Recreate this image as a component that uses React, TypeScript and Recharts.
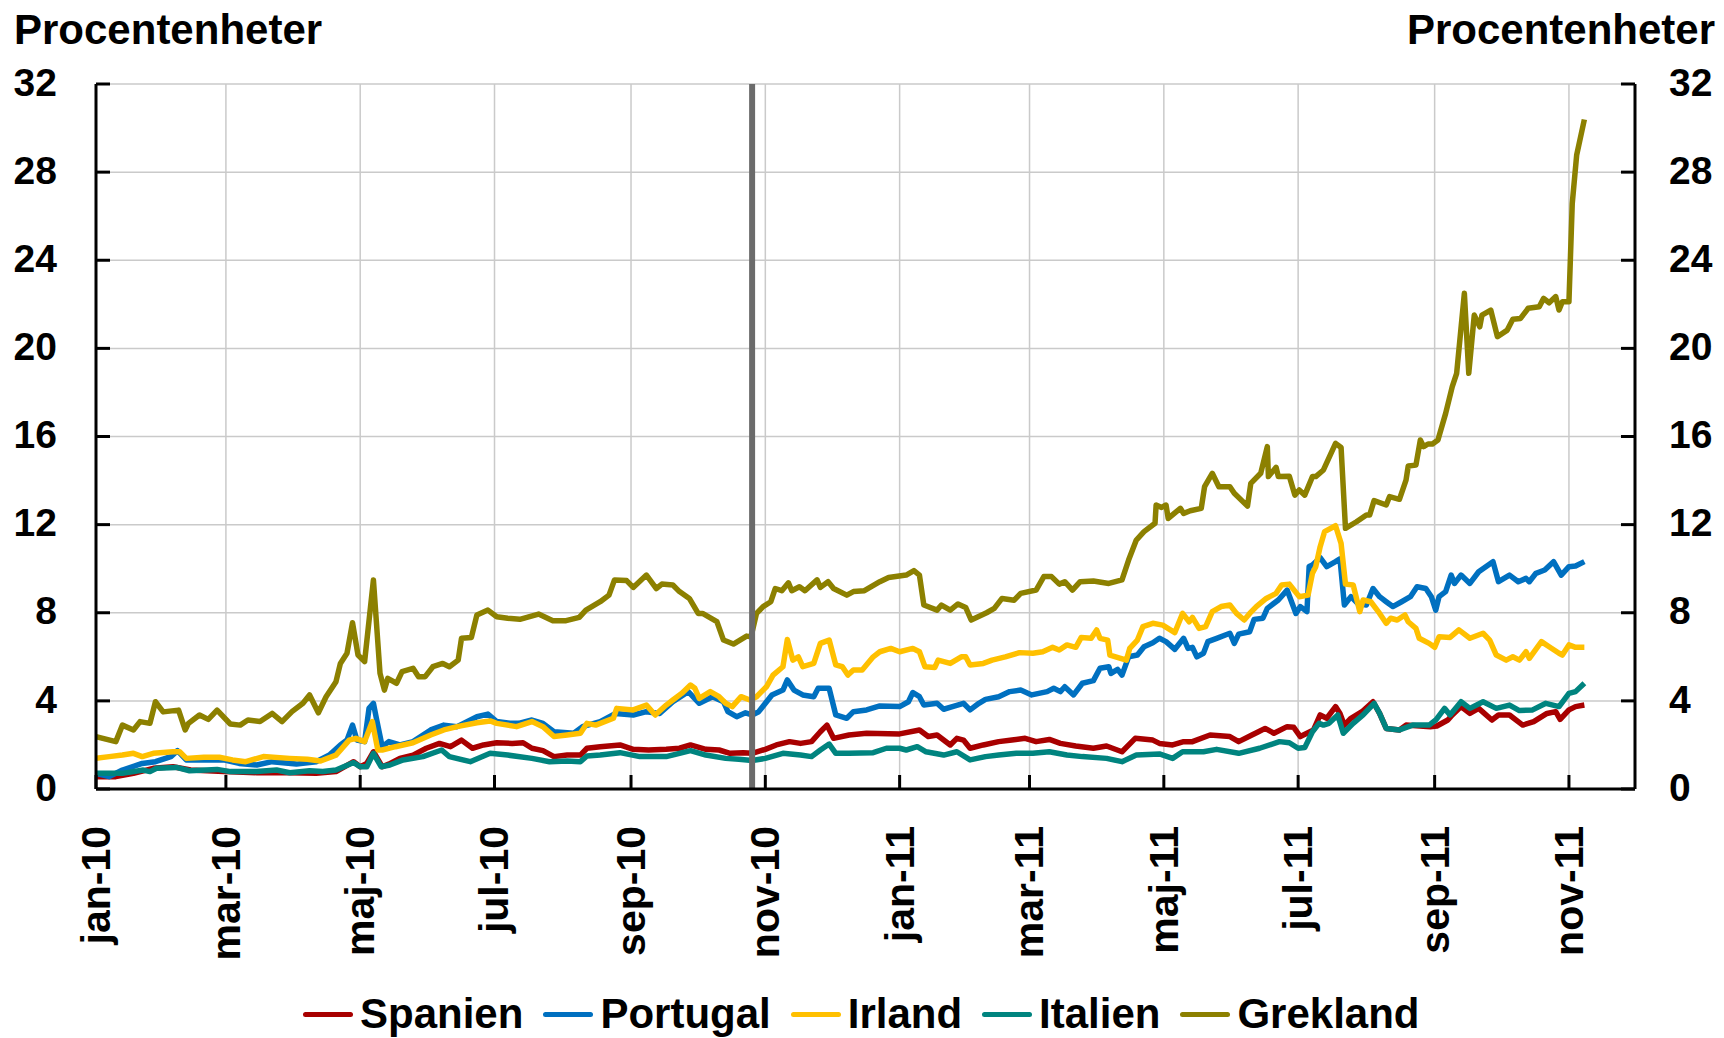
import React from 'react';
import { LineChart, Line, XAxis, YAxis, CartesianGrid, ReferenceLine } from 'recharts';

// x = dagar räknat från 2010-01-01
const X_TICKS = [0, 59, 120, 181, 243, 304, 365, 424, 485, 546, 608, 669];
const X_LABELS = ['jan-10', 'mar-10', 'maj-10', 'jul-10', 'sep-10', 'nov-10', 'jan-11', 'mar-11', 'maj-11', 'jul-11', 'sep-11', 'nov-11'];
const Y_TICKS = [0, 4, 8, 12, 16, 20, 24, 28, 32];
const MARKER_DAY = 298;
const UNIT = 'Procentenheter';

const SPANIEN: [number, number][] = [
  [0, 0.56], [9, 0.56], [17, 0.71], [26, 0.94], [35, 1.01], [43, 0.86], [58, 0.79], [73, 0.74], [88, 0.74], [100, 0.71],
  [109, 0.79], [117, 1.24], [120, 1.01], [123, 1.16], [126, 1.69], [130, 1.01], [133, 1.13], [138, 1.39], [144, 1.54], [150, 1.85],
  [156, 2.07], [161, 1.92], [166, 2.22], [171, 1.85], [176, 2.0], [182, 2.1], [189, 2.07], [194, 2.1], [198, 1.85], [203, 1.74],
  [208, 1.47], [214, 1.54], [220, 1.54], [223, 1.85], [229, 1.92], [238, 2.0], [244, 1.8], [251, 1.77], [259, 1.8], [265, 1.85],
  [270, 2.0], [277, 1.8], [283, 1.77], [288, 1.62], [294, 1.65], [298, 1.62], [304, 1.8], [309, 2.0], [315, 2.15], [320, 2.07],
  [325, 2.15], [329, 2.6], [332, 2.9], [335, 2.3], [342, 2.45], [350, 2.53], [365, 2.5], [374, 2.68], [378, 2.38], [382, 2.45],
  [388, 2.0], [391, 2.3], [394, 2.22], [397, 1.85], [403, 2.0], [410, 2.15], [416, 2.22], [422, 2.3], [427, 2.15], [433, 2.25],
  [438, 2.07], [445, 1.95], [453, 1.85], [459, 1.95], [466, 1.69], [472, 2.3], [480, 2.22], [483, 2.07], [489, 2.0], [494, 2.15],
  [498, 2.15], [506, 2.45], [515, 2.38], [519, 2.15], [525, 2.45], [528, 2.6], [531, 2.75], [535, 2.53], [541, 2.83], [544, 2.8],
  [547, 2.38], [550, 2.53], [553, 2.68], [556, 3.36], [559, 3.21], [563, 3.74], [565, 3.43], [567, 2.9], [570, 3.21], [575, 3.51],
  [580, 3.96], [583, 3.43], [586, 2.75], [592, 2.68], [595, 2.9], [606, 2.83], [609, 2.86], [614, 3.13], [616, 3.36], [620, 3.74],
  [624, 3.43], [628, 3.66], [634, 3.13], [637, 3.36], [642, 3.36], [648, 2.9], [653, 3.06], [659, 3.43], [663, 3.51], [665, 3.16],
  [669, 3.59], [672, 3.74], [676, 3.81],
];

const PORTUGAL: [number, number][] = [
  [0, 0.71], [6, 0.56], [12, 0.86], [21, 1.16], [27, 1.24], [34, 1.47], [37, 1.74], [41, 1.32], [49, 1.32], [58, 1.32],
  [65, 1.16], [73, 1.09], [80, 1.24], [91, 1.13], [100, 1.24], [106, 1.54], [111, 2.0], [114, 2.22], [116.5, 2.9], [118.5, 2.22],
  [122, 2.15], [124, 3.66], [126, 3.89], [127.5, 3.13], [130, 1.92], [133, 2.15], [138, 2.0], [144, 2.15], [152, 2.68], [158, 2.9],
  [164, 2.83], [173, 3.28], [178, 3.4], [182, 3.06], [188, 2.98], [192, 2.98], [198, 3.13], [203, 2.98], [208, 2.6], [217, 2.53],
  [221, 2.83], [229, 3.06], [236, 3.43], [244, 3.36], [250, 3.51], [256, 3.43], [262, 3.96], [269, 4.42], [274, 3.89], [280, 4.19],
  [285, 3.96], [287, 3.51], [291, 3.28], [295, 3.46], [298, 3.36], [301, 3.51], [307, 4.27], [312, 4.49], [314, 4.95], [317, 4.49],
  [321, 4.27], [326, 4.19], [328, 4.57], [333, 4.57], [336, 3.36], [341, 3.21], [344, 3.51], [350, 3.59], [356, 3.77], [365, 3.74],
  [369, 3.96], [371, 4.38], [374, 4.19], [376, 3.81], [382, 3.89], [385, 3.62], [389, 3.74], [394, 3.89], [397, 3.59], [401, 3.89],
  [404, 4.07], [410, 4.19], [415, 4.42], [420, 4.49], [425, 4.27], [432, 4.42], [435, 4.57], [438, 4.42], [440, 4.64], [444, 4.27],
  [448, 4.8], [453, 4.92], [456, 5.48], [460, 5.55], [461, 5.25], [464, 5.43], [466, 5.17], [469, 6.0], [473, 6.08], [476, 6.46],
  [480, 6.64], [483, 6.84], [486, 6.69], [490, 6.34], [494, 6.84], [496, 6.38], [498, 6.43], [500, 6.0], [503, 6.16], [505, 6.69],
  [509, 6.84], [515, 7.07], [517, 6.61], [519, 7.03], [524, 7.14], [526, 7.7], [530, 7.75], [532, 8.2], [537, 8.58], [541, 9.03],
  [545, 7.97], [547, 8.28], [550, 8.05], [551, 10.1], [552.5, 10.17], [556, 10.5], [559, 10.09], [563, 10.32], [565, 10.45], [567, 8.35],
  [570, 8.73], [573, 8.43], [577, 8.35], [580, 9.1], [583, 8.73], [586, 8.5], [589, 8.28], [593, 8.5], [597, 8.73], [600, 9.18],
  [604, 9.1], [606.5, 8.73], [608.5, 8.12], [610, 8.73], [613, 8.96], [615.5, 9.71], [617, 9.33], [620, 9.71], [624, 9.33], [628, 9.86],
  [634.5, 10.32], [637, 9.41], [642, 9.71], [646, 9.41], [649.5, 9.56], [651, 9.41], [654, 9.79], [658, 9.94], [662, 10.32], [665.5, 9.71],
  [669, 10.09], [672, 10.12], [676, 10.32],
];

const IRLAND: [number, number][] = [
  [0, 1.39], [6, 1.47], [12, 1.54], [17, 1.62], [21, 1.47], [26, 1.62], [35, 1.69], [38, 1.69], [41, 1.39], [49, 1.44],
  [56, 1.44], [62, 1.32], [68, 1.24], [76, 1.47], [88, 1.39], [96, 1.35], [102, 1.27], [109, 1.54], [115, 2.22], [118, 2.3],
  [122, 2.15], [125.5, 3.06], [128, 1.77], [130, 1.77], [136, 1.92], [144, 2.1], [152, 2.45], [158, 2.68], [164, 2.83], [173, 3.01],
  [179, 3.09], [182, 2.98], [191, 2.83], [198, 3.06], [203, 2.83], [208, 2.38], [214, 2.45], [220, 2.53], [223, 2.98], [227, 2.9],
  [235, 3.21], [236.5, 3.66], [244, 3.59], [250, 3.81], [254, 3.36], [259, 3.81], [262, 4.04], [266, 4.34], [270, 4.72], [272, 4.57],
  [274, 4.11], [279, 4.42], [283, 4.19], [286, 3.89], [289, 3.74], [293, 4.19], [297, 4.04], [300, 4.19], [304.5, 4.64], [307.5, 5.17],
  [312, 5.55], [314, 6.79], [316.5, 5.85], [319, 6.0], [321, 5.55], [326, 5.7], [329, 6.61], [333, 6.76], [336, 5.63], [339, 5.55],
  [341.5, 5.17], [344, 5.4], [348, 5.4], [353, 6.0], [356, 6.23], [361, 6.38], [365, 6.23], [371, 6.38], [374, 6.23], [376.5, 5.55],
  [381, 5.52], [382.5, 5.85], [388, 5.7], [393, 6.0], [395, 6.0], [397, 5.63], [403, 5.7], [407, 5.85], [413, 6.0], [419.5, 6.19],
  [425.5, 6.16], [430, 6.23], [434.5, 6.43], [437.5, 6.31], [441, 6.54], [445, 6.43], [447.5, 6.88], [452, 6.84], [454.5, 7.22], [456, 6.84],
  [459.5, 6.76], [460.5, 6.08], [468, 5.85], [469.5, 6.38], [473, 6.76], [475.5, 7.37], [480, 7.52], [484.5, 7.44], [490, 7.1], [493.5, 7.97],
  [496.5, 7.59], [498, 7.79], [501, 7.29], [504, 7.37], [507, 8.05], [511, 8.28], [515, 8.35], [518, 7.97], [521.5, 7.67], [524, 7.97],
  [527, 8.28], [531.5, 8.65], [536, 8.88], [538.5, 9.26], [542, 9.3], [546.5, 8.73], [550.5, 8.8], [552.5, 9.79], [554, 10.09], [556, 11.0],
  [558, 11.68], [563, 11.95], [565.5, 11.15], [567.5, 9.3], [571, 9.26], [574, 8.05], [575.5, 8.58], [579, 8.5], [583, 7.97], [586, 7.52],
  [588, 7.75], [591, 7.67], [594.5, 7.9], [596, 7.59], [599.5, 7.29], [601, 6.84], [605.5, 6.61], [608, 6.43], [610, 6.91], [615, 6.88],
  [619, 7.22], [624, 6.84], [630, 7.07], [633, 6.76], [636, 6.08], [640.5, 5.85], [643.5, 6.0], [646.5, 5.85], [649.5, 6.23], [651, 5.93],
  [656.5, 6.69], [660, 6.46], [664.5, 6.16], [666, 6.08], [669, 6.54], [672, 6.43], [676, 6.43],
];

const ITALIEN: [number, number][] = [
  [0, 0.71], [12, 0.71], [21.5, 0.86], [24.5, 0.79], [27.5, 0.94], [36.5, 0.98], [42.5, 0.83], [55, 0.89], [61, 0.79], [73, 0.79],
  [82, 0.86], [88, 0.74], [97, 0.83], [103, 0.79], [109, 0.86], [117, 1.2], [120, 1.01], [123, 1.01], [126, 1.62], [129.5, 1.01],
  [133.5, 1.09], [139.5, 1.32], [148.5, 1.47], [157, 1.77], [160.5, 1.47], [170, 1.24], [179, 1.62], [187, 1.54], [198, 1.39], [206, 1.24],
  [214, 1.27], [220, 1.24], [223, 1.5], [229, 1.54], [238, 1.65], [247, 1.47], [259, 1.47], [265, 1.62], [270, 1.74], [277, 1.54],
  [286, 1.39], [292, 1.35], [298, 1.29], [304, 1.39], [312, 1.62], [320, 1.54], [325, 1.47], [329, 1.77], [333, 2.04], [336, 1.62],
  [342, 1.62], [353, 1.65], [359, 1.85], [365, 1.85], [368, 1.77], [373, 1.92], [377, 1.69], [385, 1.54], [391, 1.69], [397, 1.32],
  [404, 1.47], [410, 1.54], [418, 1.62], [425.5, 1.62], [433, 1.69], [441, 1.54], [448, 1.47], [459, 1.39], [466, 1.24], [472.5, 1.54],
  [483, 1.59], [489, 1.39], [493.5, 1.69], [503, 1.69], [509, 1.8], [519, 1.62], [528.5, 1.85], [537.5, 2.15], [542, 2.1], [546, 1.85],
  [549, 1.88], [552.5, 2.6], [555.5, 2.98], [557.5, 2.9], [560, 2.98], [564, 3.36], [566.5, 2.53], [571, 2.98], [575.5, 3.36], [580.5, 3.89],
  [583, 3.43], [586, 2.75], [592, 2.68], [598, 2.9], [605.5, 2.9], [608.5, 3.13], [612.5, 3.66], [615, 3.36], [620, 3.96], [624, 3.66],
  [630, 3.96], [636, 3.66], [642, 3.81], [646.5, 3.56], [652.5, 3.59], [658.5, 3.89], [664.5, 3.74], [669, 4.34], [672, 4.42], [676, 4.8],
];

const GREKLAND: [number, number][] = [
  [0, 2.38], [9, 2.15], [12, 2.9], [17, 2.68], [20, 3.06], [24.5, 2.98], [27, 3.96], [30.5, 3.5], [37.5, 3.58], [40.5, 2.68],
  [42, 2.98], [47, 3.36], [51, 3.16], [55, 3.58], [61, 2.95], [65.5, 2.9], [69, 3.13], [74.5, 3.06], [80, 3.43], [84.5, 3.06],
  [89, 3.51], [94, 3.89], [97, 4.27], [101, 3.46], [104.5, 4.19], [109, 4.87], [111, 5.7], [114, 6.16], [116.5, 7.55], [119, 6.08],
  [122, 5.78], [126, 9.49], [129, 5.25], [131, 4.49], [132.5, 5.02], [136.5, 4.8], [139, 5.33], [144, 5.48], [146.5, 5.1], [149.5, 5.1],
  [153, 5.55], [157.5, 5.7], [160.5, 5.55], [164.5, 5.85], [166, 6.84], [170.5, 6.88], [173, 7.9], [178, 8.12], [182, 7.82], [187, 7.75],
  [192.5, 7.7], [201, 7.94], [207.5, 7.64], [213.5, 7.64], [219.5, 7.79], [222.5, 8.12], [229, 8.5], [233, 8.8], [235.5, 9.49], [241, 9.46],
  [244, 9.15], [250, 9.71], [254.5, 9.1], [257, 9.3], [262, 9.26], [265, 8.96], [269.5, 8.65], [273.5, 7.97], [275.5, 7.97], [282, 7.6],
  [285, 6.76], [289.5, 6.58], [292.5, 6.76], [295.5, 6.94], [297.5, 6.91], [300, 7.97], [303, 8.28], [306.5, 8.5], [308.5, 9.1], [311.5, 9.0],
  [314.5, 9.36], [316, 9.0], [319.5, 9.18], [322, 9.0], [327.5, 9.49], [329, 9.15], [332.5, 9.41], [335, 9.1], [341, 8.8], [344, 8.96],
  [349, 9.0], [356, 9.41], [360, 9.6], [368, 9.71], [371.5, 9.91], [374, 9.71], [376, 8.35], [382, 8.12], [384, 8.35], [388, 8.12],
  [391.5, 8.4], [395, 8.24], [397.5, 7.67], [404.5, 8.0], [408, 8.2], [411.5, 8.65], [417, 8.57], [420, 8.88], [427, 9.03], [430.5, 9.64],
  [434, 9.64], [437.5, 9.3], [440, 9.41], [443.5, 9.03], [447, 9.41], [453, 9.44], [460, 9.33], [466, 9.49], [469, 10.39], [472.5, 11.3],
  [476, 11.68], [481, 12.06], [481.5, 12.89], [484, 12.78], [486, 12.89], [487, 12.28], [492.5, 12.74], [494, 12.51], [497, 12.63], [502, 12.74],
  [503.5, 13.72], [507, 14.33], [510, 13.72], [515, 13.72], [517, 13.42], [523, 12.84], [524.5, 13.87], [529, 14.33], [532, 15.54], [532.5, 14.18],
  [536, 14.6], [537, 14.18], [542, 14.2], [544.5, 13.34], [546.5, 13.57], [549, 13.34], [552.5, 14.18], [554, 14.18], [557.5, 14.48], [563, 15.69],
  [565.5, 15.5], [567.5, 11.83], [572.5, 12.13], [577, 12.44], [578.5, 12.44], [580.5, 13.09], [586, 12.89], [587.5, 13.27], [592, 13.15], [595, 14.02],
  [596, 14.66], [599.5, 14.7], [601.5, 15.84], [603, 15.54], [605, 15.66], [607, 15.66], [609.5, 15.84], [613, 17.05], [616, 18.26], [618, 18.87],
  [621.5, 22.5], [623.5, 18.87], [626, 21.51], [628.5, 20.98], [629.5, 21.51], [633.5, 21.74], [636.5, 20.53], [641, 20.83], [643.5, 21.32], [647, 21.36],
  [650.5, 21.82], [655.5, 21.89], [657.5, 22.27], [660, 22.07], [663, 22.35], [664.5, 21.74], [666, 22.12], [669, 22.12], [670.5, 26.58], [672.5, 28.77],
  [676, 30.39],
];

const SERIES = [
  { name: 'Spanien', color: '#a80000', points: SPANIEN },
  { name: 'Portugal', color: '#0070c0', points: PORTUGAL },
  { name: 'Irland', color: '#ffc000', points: IRLAND },
  { name: 'Italien', color: '#00847f', points: ITALIEN },
  { name: 'Grekland', color: '#8c8000', points: GREKLAND },
];

const FONT = '"Liberation Sans", Arial, sans-serif';

function XTick({ x, y, payload }: any) {
  const label = X_LABELS[X_TICKS.indexOf(payload.value)];
  const ty = y + 37;
  return (
    <g>
      <line x1={x} y1={y} x2={x} y2={y - 14} stroke="#000" strokeWidth={3} />
      <text x={x} y={ty} dy="0.34em" textAnchor="end" transform={`rotate(-90, ${x}, ${ty})`}
        fontSize={41} fontWeight="bold" fontFamily={FONT} fill="#000">{label}</text>
    </g>
  );
}

function LeftTick({ x, y, payload }: any) {
  return (
    <g>
      <line x1={x} y1={y} x2={x + 14} y2={y} stroke="#000" strokeWidth={3} />
      <text x={x - 39} y={y} dy="0.3em" textAnchor="end" fontSize={39} fontWeight="bold" fontFamily={FONT} fill="#000">{payload.value}</text>
    </g>
  );
}

function RightTick({ x, y, payload }: any) {
  return (
    <g>
      <line x1={x} y1={y} x2={x - 14} y2={y} stroke="#000" strokeWidth={3} />
      <text x={x + 34} y={y} dy="0.3em" textAnchor="start" fontSize={39} fontWeight="bold" fontFamily={FONT} fill="#000">{payload.value}</text>
    </g>
  );
}

export default function App() {
  return (
    <div style={{ position: 'absolute', left: 0, top: 0, width: 1724, height: 1038, background: '#fff', fontFamily: FONT }}>
      <LineChart width={1724} height={1038} margin={{ top: 84, right: 0, bottom: 0, left: 0 }}>
        <CartesianGrid stroke="#cacaca" strokeWidth={1.5} yAxisId="left" />
        <XAxis type="number" dataKey="d" domain={[0, 699]} ticks={X_TICKS} interval={0} allowDataOverflow
          height={249} tickSize={0} tickMargin={0} tickLine={false} tick={<XTick />}
          axisLine={{ stroke: '#000', strokeWidth: 3 }} />
        <YAxis yAxisId="left" type="number" domain={[0, 32]} ticks={Y_TICKS} interval={0} allowDataOverflow
          width={96} tickSize={0} tickMargin={0} tickLine={false} tick={<LeftTick />}
          axisLine={{ stroke: '#000', strokeWidth: 3 }} />
        <YAxis yAxisId="right" orientation="right" type="number" domain={[0, 32]} ticks={Y_TICKS} interval={0} allowDataOverflow
          width={89} tickSize={0} tickMargin={0} tickLine={false} tick={<RightTick />}
          axisLine={{ stroke: '#000', strokeWidth: 3 }} />
        {SERIES.map((s) => (
          <Line key={s.name} yAxisId="left" data={s.points.map(([d, v]) => ({ d, v }))} dataKey="v" name={s.name}
            type="linear" stroke={s.color} strokeWidth={5.5} dot={false} activeDot={false}
            strokeLinejoin="round" isAnimationActive={false} />
        ))}
        <ReferenceLine yAxisId="left" x={MARKER_DAY} stroke="#6b6b6b" strokeWidth={6} />
      </LineChart>

      <div style={{ position: 'absolute', left: 14, top: 6, fontSize: 42, fontWeight: 'bold', lineHeight: '48px' }}>{UNIT}</div>
      <div style={{ position: 'absolute', right: 9, top: 6, fontSize: 42, fontWeight: 'bold', lineHeight: '48px' }}>{UNIT}</div>

      <div style={{ position: 'absolute', left: 303, top: 990, height: 48, display: 'flex', alignItems: 'center', gap: 20 }}>
        {SERIES.map((s) => (
          <div key={s.name} style={{ display: 'flex', alignItems: 'center' }}>
            <span style={{ width: 50, height: 5, borderRadius: 3, background: s.color, marginRight: 7 }} />
            <span style={{ fontSize: 42, fontWeight: 'bold', lineHeight: '48px' }}>{s.name}</span>
          </div>
        ))}
      </div>
    </div>
  );
}
